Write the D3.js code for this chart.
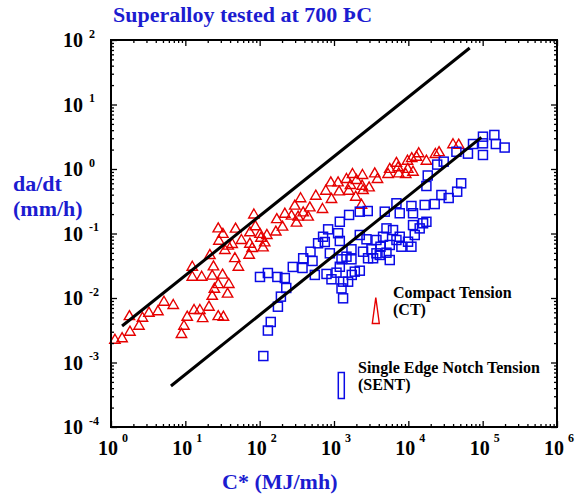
<!DOCTYPE html>
<html>
<head>
<meta charset="utf-8">
<script src="https://cdn.jsdelivr.net/npm/d3@7/dist/d3.min.js"></script>
<style>
  html, body { margin: 0; padding: 0; background: #fff; }
  svg { display: block; }
  text { font-family: "Liberation Serif", "Times New Roman", serif; font-weight: bold; }
</style>
</head>
<body>
<svg id="chart" width="578" height="495"></svg>
<script>
// ---- data ----
const titleText = "Superalloy tested at 700 ÞC";
const xLabelText = "C* (MJ/mh)";
const yLabelLines = ["da/dt", "(mm/h)"];

const xTickValues = [1, 10, 100, 1000, 10000, 100000, 1000000];
const xTickExps = ["0", "1", "2", "3", "4", "5", "6"];
const yTickValues = [1e-4, 1e-3, 1e-2, 1e-1, 1, 10, 100];
const yTickExps = ["-4", "-3", "-2", "-1", "0", "1", "2"];

// Compact Tension (CT)
const ctC = [1.13,1.41,1.80,1.77,2.38,2.65,3.24,4.28,5.16,6.88,
  8.87,9.58,10.6,13.1,15.7,17.1,20.8,27.7,32.5,23.0,
  24.6,27.7,37.0,38.5,31.7,23.0,16.6,12.4,12.4,23.9,
  51.7,46.4,21.4,27.7,28.3,32.0,34.1,37.7,42.7,47.4,
  56.8,73.8,73.8,72.3,79.3,83.6,87.5,101,117,125,
  165,170,203,218,268,313,297,355,329,385,
  473,569,449,104,111,700,776,925,906,1135,
  1172,1472,1581,1667,1963,1774,2006,2415,2388,2460,
  2344,2965,3532,3845,5335,5623,6918,7430,9230,9820,
  11560,11110,12850,13800,9730,7270,17500,23100,25900,39900,
  47600];
const ctRate = [2.31e-3,2.44e-3,3.08e-3,5.36e-3,3.81e-3,5.07e-3,6.07e-3,6.40e-3,8.97e-3,7.98e-3,
  2.84e-3,3.81e-3,5.26e-3,6.68e-3,6.68e-3,4.99e-3,7.52e-3,5.36e-3,5.26e-3,1.11e-2,
  1.43e-2,1.68e-2,1.20e-2,1.69e-2,2.36e-2,2.28e-2,2.19e-2,2.19e-2,3.13e-2,3.17e-2,
  3.13e-2,4.25e-2,4.76e-2,0.123,7.93e-2,0.101,5.69e-2,6.64e-2,7.05e-2,0.122,
  8.13e-2,0.107,7.13e-2,4.81e-2,6.11e-2,0.202,0.133,0.101,7.46e-2,9.73e-2,
  0.110,0.171,0.131,0.208,0.194,0.151,0.277,0.361,0.187,0.218,
  0.261,0.395,0.187,8.83e-2,6.24e-2,0.246,0.472,0.352,0.635,0.635,
  0.461,0.718,0.472,0.579,0.381,0.857,0.692,0.828,0.565,0.484,
  0.286,0.532,0.877,0.718,0.857,1.03,1.28,0.877,0.857,1.03,
  0.931,1.51,1.59,1.80,1.38,1.09,1.38,1.75,1.87,2.48,
  2.44];

// Single Edge Notch Tension (SENT)
const sentC = [112,129,141,176,193,228,101,129,173,218,
  279,377,385,483,514,552,611,713,834,752,
  879,793,1081,925,1197,1596,2223,2845,1718,1718,
  1262,1197,1905,2223,1325,1262,1325,1135,1197,1548,
  1734,2223,2735,3724,3192,3724,2872,5082,5623,4571,
  6223,5082,7660,8070,9910,7660,11560,16600,11560,15780,
  6918,4820,6918,5623,4130,3357,2460,1472,11010,12190,
  14220,17500,11010,22640,27860,34910,45410,51400,17500,18240,
  24450,29920,44350,63400,74130,100900,143600,100900,150400,197600,
  100900,4220];
const sentRate = [1.26e-3,3.13e-3,4.25e-3,7.33e-3,1.05e-2,1.43e-2,2.12e-2,2.44e-2,2.12e-2,2.04e-2,
  3.03e-2,2.92e-2,4.13e-2,5.22e-2,3.75e-2,2.28e-2,7.05e-2,8.91e-2,0.116,7.38e-2,
  4.93e-2,2.36e-2,2.47e-2,1.95e-2,0.152,0.194,0.218,0.223,5.69e-2,3.98e-2,
  3.98e-2,3.05e-2,2.56e-2,2.65e-2,1.79e-2,1.41e-2,9.89e-3,0.101,7.66e-2,1.79e-2,
  2.28e-2,9.48e-2,8.13e-2,7.93e-2,5.69e-2,4.93e-2,4.13e-2,5.04e-2,6.64e-2,8.91e-2,
  0.113,0.120,8.91e-2,6.24e-2,7.46e-2,0.206,0.206,0.277,0.135,0.144,
  0.294,0.218,7.93e-2,3.88e-2,4.65e-2,4.13e-2,5.22e-2,4.37e-2,6.24e-2,9.48e-2,
  0.120,0.152,0.267,0.286,0.395,0.355,0.445,0.600,0.545,0.793,
  1.17,1.30,1.85,1.73,2.44,3.17,3.37,2.50,2.44,2.15,
  1.65,6.24e-2];

// Fit lines
const line1C = [1.41, 66900];
const line1Rate = [3.68e-3, 75.2];
const line2C = [6.4, 96100];
const line2Rate = [4.32e-4, 3.10];

const legendLabels = [["Compact Tension", "(CT)"], ["Single Edge Notch Tension", "(SENT)"]];

// ---- drawing ----
const svg = d3.select("#chart");
const blue = "#1c1cd0";
const red = "#e60000";
const sqBlue = "#0a0ae6";
const pL = 111, pR = 557, pT = 40, pB = 427;

const xScale = d3.scaleLog().domain([1, 1e6]).range([pL, pR]);
const yScale = d3.scaleLog().domain([1e-4, 1e2]).range([pB, pT]);

svg.append("rect").attr("width", 578).attr("height", 495).attr("fill", "#fff");

// data markers
const triPath = "M0,-4.8L5.2,4.2L-5.2,4.2Z";
svg.append("g").selectAll("path").data(ctC.map((c, i) => [c, ctRate[i]]))
  .join("path")
  .attr("d", triPath)
  .attr("transform", d => `translate(${xScale(d[0])},${yScale(d[1])})`)
  .attr("fill", "none").attr("stroke", red).attr("stroke-width", 1.4);

svg.append("g").selectAll("rect").data(sentC.map((c, i) => [c, sentRate[i]]))
  .join("rect")
  .attr("x", d => xScale(d[0]) - 4.5).attr("y", d => yScale(d[1]) - 4.5)
  .attr("width", 9).attr("height", 9)
  .attr("fill", "none").attr("stroke", sqBlue).attr("stroke-width", 1.5);

// fit lines
const lineGen = d3.line().x(d => xScale(d[0])).y(d => yScale(d[1]));
[[line1C, line1Rate], [line2C, line2Rate]].forEach(([cs, rs]) => {
  svg.append("path").datum(cs.map((c, i) => [c, rs[i]]))
    .attr("d", lineGen).attr("fill", "none")
    .attr("stroke", "#000").attr("stroke-width", 3);
});

// axes: majors and minors, inward ticks on all four sides
const xMinor = xScale.ticks().filter(v => !xTickValues.some(t => Math.abs(t - v) / t < 1e-9));
const yMinor = yScale.ticks().filter(v => !yTickValues.some(t => Math.abs(t - v) / t < 1e-9));

function addAxis(axisFn, scale, vals, size, transform) {
  const g = svg.append("g").attr("transform", transform)
    .call(axisFn(scale).tickValues(vals).tickSize(size).tickFormat(""));
  g.select(".domain").remove();
  g.selectAll("line").attr("stroke", "#000").attr("stroke-width", 1.3);
}
addAxis(d3.axisBottom, xScale, xTickValues, -6, `translate(0,${pB})`);
addAxis(d3.axisBottom, xScale, xMinor, -3, `translate(0,${pB})`);
addAxis(d3.axisTop, xScale, xTickValues, -6, `translate(0,${pT})`);
addAxis(d3.axisTop, xScale, xMinor, -3, `translate(0,${pT})`);
addAxis(d3.axisLeft, yScale, yTickValues, -6, `translate(${pL},0)`);
addAxis(d3.axisLeft, yScale, yMinor, -3, `translate(${pL},0)`);
addAxis(d3.axisRight, yScale, yTickValues, -6, `translate(${pR},0)`);
addAxis(d3.axisRight, yScale, yMinor, -3, `translate(${pR},0)`);

svg.append("rect").attr("x", pL).attr("y", pT)
  .attr("width", pR - pL).attr("height", pB - pT)
  .attr("fill", "none").attr("stroke", "#000").attr("stroke-width", 2);

// tick labels
const xl = svg.append("g");
xTickValues.forEach((v, i) => {
  xl.append("text").attr("x", xScale(v) + 7).attr("y", pB + 28)
    .attr("text-anchor", "end").attr("font-size", 20).text("10");
  xl.append("text").attr("x", xScale(v) + 11).attr("y", pB + 15)
    .attr("font-size", 12).text(xTickExps[i]);
});
const yl = svg.append("g");
yTickValues.forEach((v, i) => {
  yl.append("text").attr("x", 83).attr("y", yScale(v) + 7)
    .attr("text-anchor", "end").attr("font-size", 20).text("10");
  yl.append("text").attr("x", 89).attr("y", yScale(v) - 2.5)
    .attr("font-size", 12).text(yTickExps[i]);
});

// title and axis titles
svg.append("text").attr("x", 113).attr("y", 21.5)
  .attr("font-size", 22).attr("fill", blue).text(titleText);
svg.append("text").attr("x", 222).attr("y", 489)
  .attr("font-size", 22).attr("fill", blue).text(xLabelText);
yLabelLines.forEach((t, i) => {
  svg.append("text").attr("x", 13).attr("y", 191 + i * 25)
    .attr("font-size", 22).attr("fill", blue).text(t);
});

// legend
svg.append("path").attr("d", "M375.8,297.5L379.3,323.5L372.3,323.5Z")
  .attr("fill", "none").attr("stroke", red).attr("stroke-width", 1.4);
svg.append("rect").attr("x", 338.3).attr("y", 372.5).attr("width", 6).attr("height", 26)
  .attr("fill", "none").attr("stroke", sqBlue).attr("stroke-width", 1.5);
svg.append("text").attr("x", 393).attr("y", 298).attr("font-size", 16).text(legendLabels[0][0]);
svg.append("text").attr("x", 393).attr("y", 315).attr("font-size", 16).text(legendLabels[0][1]);
svg.append("text").attr("x", 358).attr("y", 373).attr("font-size", 16).text(legendLabels[1][0]);
svg.append("text").attr("x", 358).attr("y", 390).attr("font-size", 16).text(legendLabels[1][1]);
</script>
</body>
</html>
